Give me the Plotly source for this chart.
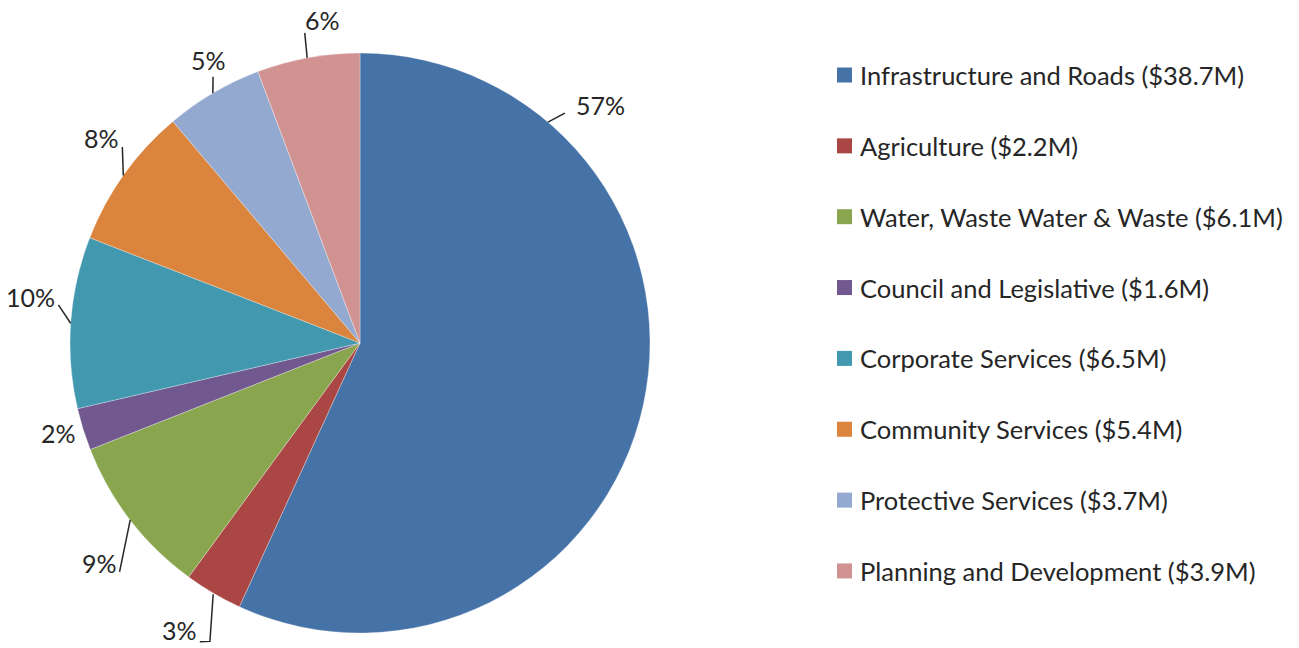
import math
import plotly.graph_objects as go

categories = ["Infrastructure and Roads", "Agriculture", "Water, Waste Water & Waste",
              "Council and Legislative", "Corporate Services", "Community Services",
              "Protective Services", "Planning and Development"]
values_m = [38.7, 2.2, 6.1, 1.6, 6.5, 5.4, 3.7, 3.9]
colors = ["#4572A7", "#AA4643", "#89A54E", "#71588F", "#4198AF", "#DB843D", "#93A9CF", "#D19392"]

# layout of outside labels (angle clockwise from 12 o'clock in degrees, radius in px)
label_pos = [(45.3, 338), (212.2, 339), (229.8, 341), (253.4, 315),
             (277.9, 333), (308.5, 330), (331.8, 321), (353.3, 325)]
leader_pts = [
    [(40.4, 290), (41.7, 308)],
    [(210.3, 291), (206.7, 334), (208.2, 339)],
    [(232.4, 290), (226.4, 332)],
    [],
    [(273.9, 290), (277.2, 304)],
    [(305.3, 290), (309.5, 308)],
    [(329.5, 290), (331.1, 304)],
    [(349.5, 290), (349.9, 315)],
]

W, H = 1299, 648
CX, CY, R = 360, 343, 290
FONT = "Lato"
TXT = "#262626"


def pt(theta, r):
    t = math.radians(theta)
    x = CX + r * math.sin(t)
    y = CY - r * math.cos(t)
    return x / W, 1 - y / H


total = sum(values_m)
fig = go.Figure(go.Pie(
    labels=categories, values=values_m, sort=False, direction="clockwise", rotation=0,
    marker=dict(colors=colors, line=dict(color="rgba(255,255,255,0.6)", width=0.5)),
    textinfo="none", hoverinfo="label+value+percent", showlegend=False,
    domain=dict(x=[(CX - R) / W, (CX + R) / W], y=[(H - CY - R) / H, (H - CY + R) / H]),
))

annotations = []
shapes = []
for i, v in enumerate(values_m):
    pct = f"{round(v / total * 100)}%"
    x, y = pt(*label_pos[i])
    annotations.append(dict(x=x, y=y, xref="paper", yref="paper", text=pct, showarrow=False,
                            xanchor="center", yanchor="middle", borderpad=0,
                            font=dict(family=FONT, size=25, color=TXT)))
    pts = leader_pts[i]
    if pts:
        path = "M " + " L ".join(f"{pt(a, r)[0]},{pt(a, r)[1]}" for a, r in pts)
        shapes.append(dict(type="path", xref="paper", yref="paper", path=path,
                           line=dict(color=TXT, width=1.5)))

# custom legend
row0, gap = 75, 70.85
for i, (c, col) in enumerate(zip(categories, colors)):
    yc = row0 + i * gap
    shapes.append(dict(type="rect", xref="paper", yref="paper",
                       x0=837 / W, x1=852 / W, y0=1 - (yc + 7.5) / H, y1=1 - (yc - 7.5) / H,
                       fillcolor=col, line=dict(width=0)))
    annotations.append(dict(x=858 / W, y=1 - yc / H, xref="paper", yref="paper",
                            text=f"{c} (${values_m[i]}M)", showarrow=False,
                            xanchor="left", yanchor="middle",
                            font=dict(family=FONT, size=25.5, color=TXT)))

fig.update_layout(width=W, height=H, margin=dict(l=0, r=0, t=0, b=0),
                  paper_bgcolor="white", plot_bgcolor="white",
                  annotations=annotations, shapes=shapes)
fig.write_html("out.html", config={"displayModeBar": False},
               post_script="document.body.style.margin='0';")
